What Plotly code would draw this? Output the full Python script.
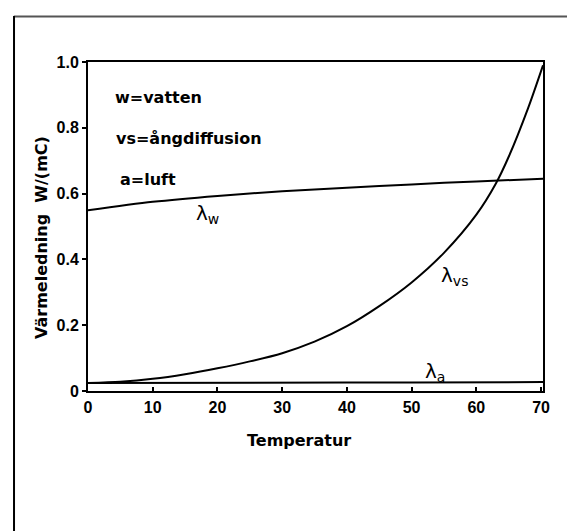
import plotly.graph_objects as go

# Data
temp_w = [0, 10, 20, 30, 40, 50, 60, 70.3]
lambda_w = [0.549, 0.575, 0.593, 0.607, 0.618, 0.628, 0.637, 0.645]

temp_vs = [0, 5, 10, 15, 20, 25, 30, 35, 40, 45, 50, 55, 60, 63, 65, 68, 70.3]
lambda_vs = [0.024, 0.028, 0.037, 0.051, 0.069, 0.090, 0.115, 0.150, 0.197,
             0.258, 0.330, 0.420, 0.536, 0.630, 0.712, 0.860, 0.990]

temp_a = [0, 10, 20, 30, 40, 50, 60, 70.3]
lambda_a = [0.024, 0.025, 0.025, 0.026, 0.026, 0.026, 0.027, 0.027]

x_ticks = [0, 10, 20, 30, 40, 50, 60, 70]
x_ticktext = ["0", "10", "20", "30", "40", "50", "60", "70"]
y_ticks = [0, 0.2, 0.4, 0.6, 0.8, 1.0]
y_ticktext = ["0", "0.2", "0.4", "0.6", "0.8", "1.0"]

legend_lines = ["w=vatten", "vs=ångdiffusion", "a=luft"]
legend_pos = [(3.8, 0.891), (4.0, 0.769), (4.6, 0.644)]

curve_labels = ["λ<sub>w</sub>", "λ<sub>vs</sub>", "λ<sub>a</sub>"]
curve_label_pos = [(18.5, 0.538), (56.6, 0.35), (53.6, 0.058)]

fig = go.Figure()
line_style = dict(color="black", width=2)
fig.add_trace(go.Scatter(x=temp_w, y=lambda_w, mode="lines",
                         line=dict(shape="spline", smoothing=0.8, **line_style)))
fig.add_trace(go.Scatter(x=temp_vs, y=lambda_vs, mode="lines",
                         line=dict(shape="spline", smoothing=0.8, **line_style)))
fig.add_trace(go.Scatter(x=temp_a, y=lambda_a, mode="lines", line=line_style))

tick_font = dict(family="Liberation Sans", size=16, color="black")
bold_font = dict(family="DejaVu Sans", size=16, color="black")

annotations = []
for text, (x, y) in zip(legend_lines, legend_pos):
    annotations.append(dict(x=x, y=y, xref="x", yref="y", text="<b>" + text + "</b>",
                            showarrow=False, xanchor="left", yanchor="middle", font=bold_font))
for text, (x, y) in zip(curve_labels, curve_label_pos):
    annotations.append(dict(x=x, y=y, xref="x", yref="y", text=text, showarrow=False,
                            xanchor="center", yanchor="middle",
                            font=dict(family="DejaVu Sans", size=20, color="black")))
annotations.append(dict(x=0.4648, y=-0.149, xref="paper", yref="paper", text="<b>Temperatur</b>",
                        showarrow=False, xanchor="center", yanchor="middle", font=bold_font))
annotations.append(dict(x=-0.1033, y=0.468, xref="paper", yref="paper",
                        text="<b>Värmeledning  W/(mC)</b>", textangle=-90,
                        showarrow=False, xanchor="center", yanchor="middle", font=bold_font))

shapes = [
    dict(type="line", xref="paper", yref="paper", x0=-0.163, x1=1.07, y0=1.138, y1=1.138,
         line=dict(color="#555555", width=2)),
    dict(type="line", xref="paper", yref="paper", x0=-0.1626, x1=-0.1626, y0=1.14, y1=-0.46,
         line=dict(color="black", width=2)),
    dict(type="line", xref="paper", yref="paper", x0=1.0703, x1=1.0703, y0=1.14, y1=-0.46,
         line=dict(color="#555555", width=1.5)),
]

fig.update_layout(
    width=575, height=531,
    margin=dict(l=80, r=40, t=54, b=148),
    paper_bgcolor="white", plot_bgcolor="white",
    showlegend=False,
    annotations=annotations,
    shapes=shapes,
    xaxis=dict(range=[0, 70.3], tickvals=x_ticks,
               ticktext=["<b>" + t + "</b>" for t in x_ticktext],
               showgrid=False, zeroline=False, showline=True, linecolor="black", linewidth=2,
               mirror=True, ticks="inside", ticklen=4, tickwidth=1.5, tickcolor="black",
               tickfont=tick_font, ticklabelstandoff=1),
    yaxis=dict(range=[0, 1.0], tickvals=y_ticks,
               ticktext=["<b>" + t + "</b>" for t in y_ticktext],
               showgrid=False, zeroline=False, showline=True, linecolor="black", linewidth=2,
               mirror=True, ticks="outside", ticklen=4, tickwidth=1.5, tickcolor="black",
               tickfont=tick_font),
)

fig.write_html("out.html")
